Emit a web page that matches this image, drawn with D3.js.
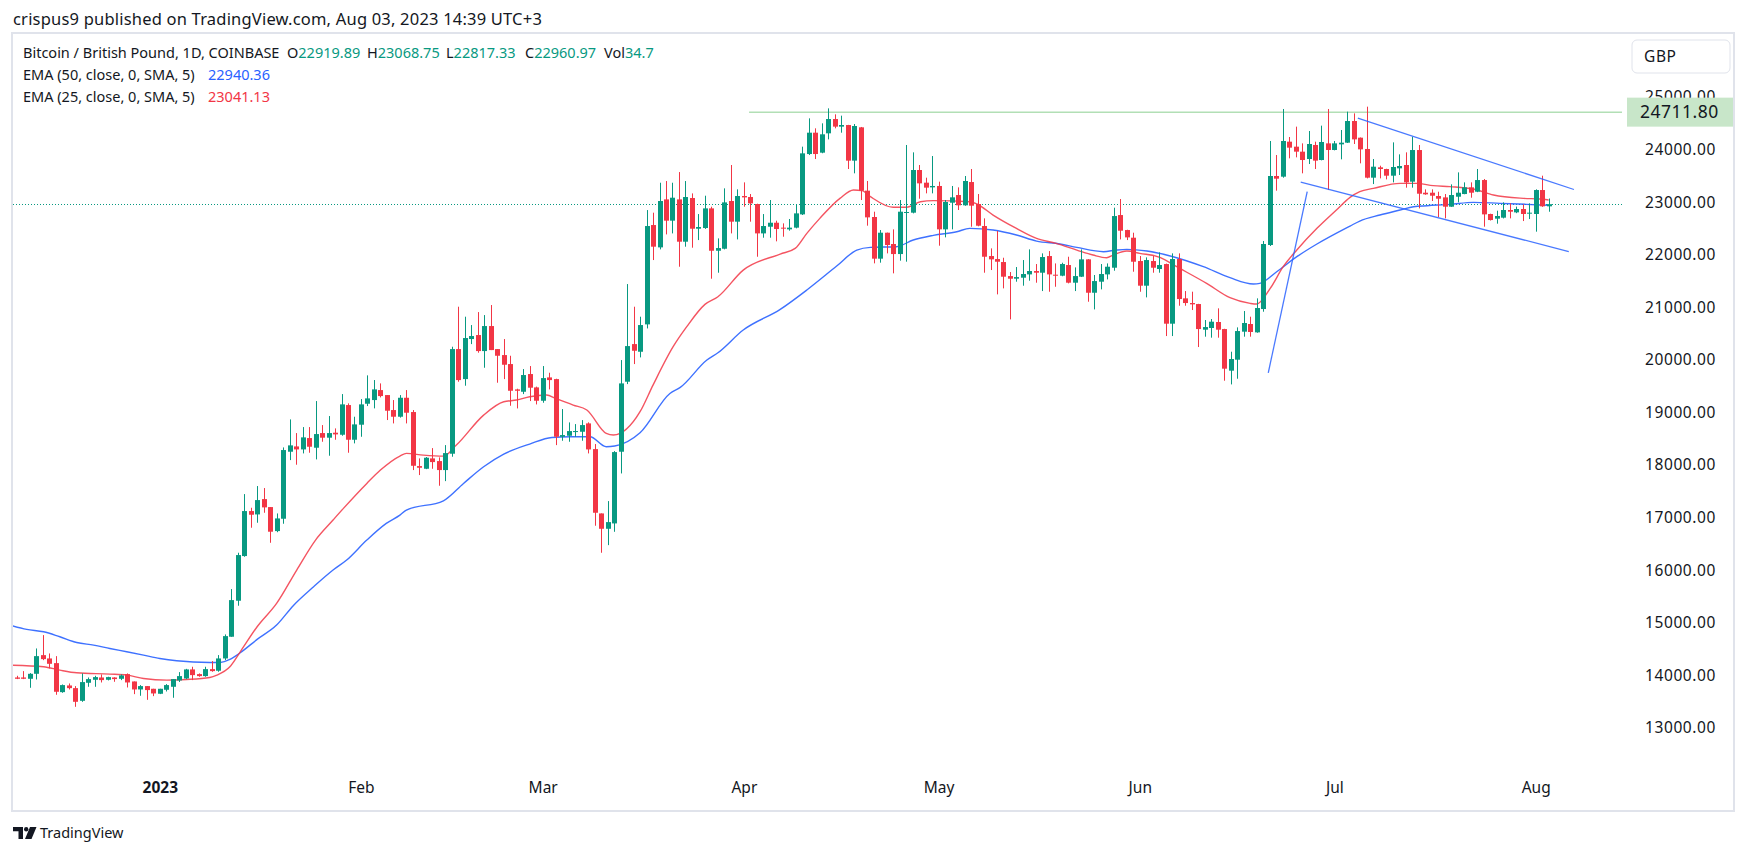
<!DOCTYPE html>
<html><head><meta charset="utf-8">
<script src="https://cdn.jsdelivr.net/npm/d3@7"></script>
<style>
html,body{margin:0;padding:0;background:#fff;}
svg{display:block;}
text{font-family:"Noto Sans",sans-serif;}
</style></head>
<body><svg id="chart" width="1747" height="856"></svg>
<script>
// ---------------- DATA ----------------
const firstDay = [2022, 11, 10]; // 10 Dec 2022, one candle per day
const open = [
13956,13956,13931,14026,14381,14318,14229,13677,13804,13753,
13512,13855,13912,13956,13912,13956,13931,14020,13880,13728,
13792,13741,13646,13722,13779,13899,13937,14109,14020,13982,
14115,14084,14318,14731,15416,16266,17122,17058,17350,17198,
16741,16976,18251,18352,18295,18511,18327,18606,18518,18613,
18574,19139,18479,18765,19164,19234,19424,19329,19044,18917,
19278,19006,17978,17927,18124,18073,17902,18213,20204,19633,
20395,20471,20166,20642,20204,20090,19919,19437,19392,19729,
19475,19221,19665,19633,18536,18555,18625,18631,18790,18301,
17077,16785,16887,18251,19583,20299,20153,20674,22564,22139,
23052,22647,23052,22247,23078,22494,22507,22881,22075,22113,
23021,22628,23116,23097,22964,22405,22532,22608,22514,22482,
22514,22767,23915,24321,23941,24309,24581,24436,24467,23789,
24423,23218,22717,21924,22418,22203,22012,22799,22799,23611,
23370,23281,23307,22482,22989,23135,22939,23382,22964,22545,
21974,21917,21860,21593,21543,21562,21625,21689,21657,21974,
21619,21600,21803,21467,21581,21911,21276,21486,21625,21752,
22754,22469,22323,21879,21410,21879,21727,21822,20687,21917,
21169,21080,21061,20573,20605,20719,20585,19793,20002,20535,
20681,20522,20966,22184,23497,23484,24150,24055,23960,23820,
24087,23801,24118,23992,24099,24131,24543,24226,24011,23465,
23662,23630,23503,23643,23706,23389,23991,23179,23179,23116,
23090,22913,23103,23154,23281,23198,23420,22774,22685,22704,
22850,22805,22869,22780,22774,23230,22919.89];
const high = [
13988,14077,14039,14508,14762,14413,14362,13823,13842,13792,
14033,13956,13988,14014,13970,13960,14014,14033,13880,13811,
13792,13741,13741,13830,13925,14058,14120,14160,14033,14160,
14268,14382,14775,15638,16329,17445,17185,17598,17560,17198,
17077,18333,18866,18606,18720,18720,19215,18758,18930,18695,
19348,19171,18917,19253,19704,19615,19551,19329,19234,19329,
19424,19044,18124,18150,18320,18143,18377,20249,21010,20820,
20661,20908,20851,21042,20204,20395,20077,19450,19824,19881,
19490,19881,19754,19640,19063,18809,18777,18853,18810,18397,
17077,17312,18263,19995,21441,21010,20820,22849,22799,23369,
23401,23369,23572,23401,23166,22773,23122,22913,22310,23262,
23706,23243,23376,23154,22970,22773,23040,22647,22596,22679,
22958,24055,24594,24404,24499,24784,24670,24645,24470,24486,
24430,23402,22818,22469,22420,22482,23040,24087,23947,23706,
23465,23877,23389,23040,23307,23281,23497,23630,23154,22691,
22120,22450,21942,21670,21765,21898,22101,21822,22025,22069,
21834,21847,21961,21758,22101,21915,21613,21822,21834,22894,
23059,22475,22418,21974,21949,21974,22044,21830,22025,22025,
21308,21296,21065,20757,20776,20979,20590,20154,20617,20928,
20820,21169,22260,24163,23896,24772,24239,24436,24118,24353,
24150,24455,24772,24163,24372,24721,24689,24230,24816,23820,
23693,23635,24137,23909,23947,24245,24087,23243,23243,23198,
23154,23338,23566,23376,23376,23630,23440,22780,22837,22996,
22977,22915,22958,22977,23243,23503,23068.75];
const low = [
13925,13925,13760,13918,14286,14128,13627,13665,13728,13398,
13493,13779,13779,13861,13900,13874,13906,13766,13639,13608,
13531,13601,13640,13690,13570,13870,13925,13906,13970,13970,
14065,14065,14287,14731,15321,16253,16805,16900,17090,16519,
16720,16881,18092,18004,18219,18232,18105,18441,18175,18479,
18555,18232,18410,18536,19120,19076,19285,18854,18790,18900,
18790,17902,17807,17920,17927,17604,17692,18156,19583,19507,
20299,20135,19849,20185,19564,19633,19126,19075,19348,19215,
19151,19183,19437,18377,18460,18441,18536,18460,18219,16843,
16329,16474,16728,17838,19538,19919,20046,20597,21898,22101,
22386,22405,21771,22152,22133,22278,22490,21543,21657,22101,
22405,22291,22913,22628,21961,22323,22323,22254,22342,22457,
22501,22755,23896,23820,23930,24194,24404,24321,23630,23548,
23040,22552,21835,21848,22025,21645,21886,21867,22786,23065,
23167,23167,22171,22330,22482,22850,22930,22532,22540,21657,
21708,21245,21359,20769,21486,21410,21505,21467,21308,21295,
21390,21590,21454,21308,21575,21105,20959,21340,21530,21695,
22291,22278,21676,21295,21188,21657,21657,20452,20452,21029,
21029,20947,20243,20440,20421,20421,19602,19532,19640,20440,
20440,20515,20915,22165,23218,23465,23833,23852,23548,23725,
23630,23795,23230,23985,23814,24125,24106,23738,23452,23344,
23452,23433,23376,23516,23275,23275,22881,23140,23021,22716,
22691,22910,22996,23150,23084,23190,22533,22650,22590,22690,
22691,22790,22640,22678,22438,22910,22817.33];
const close = [
13931,13931,14026,14362,14305,14216,13684,13811,13753,13493,
13868,13925,13963,13906,13963,13925,13995,13861,13728,13792,
13716,13652,13741,13811,13925,13982,14109,14001,13982,14115,
14077,14318,14743,15428,16285,17122,17052,17331,17192,16729,
16982,18283,18372,18295,18524,18346,18587,18518,18606,18581,
19152,18479,18771,19152,19266,19437,19310,19031,18917,19278,
18993,17984,17946,18137,18054,17902,18225,20204,19614,20414,
20452,20166,20642,20185,20077,19906,19411,19411,19710,19469,
19221,19652,19614,18536,18568,18644,18644,18758,18295,17090,
16785,16912,18244,19551,20261,20172,20661,22545,22152,23021,
22647,23084,22247,23097,22494,22526,22881,22075,22126,22995,
22628,23116,23090,22976,22405,22545,22608,22488,22501,22514,
22786,23928,24321,23915,24290,24581,24436,24467,23789,24448,
23218,22710,21924,22418,22184,22012,22818,22812,23611,23357,
23275,23307,22482,23002,23091,22939,23402,22932,22551,21961,
21911,21866,21581,21543,21574,21632,21689,21657,21955,21625,
21600,21822,21467,21593,21911,21276,21498,21632,21771,22735,
22456,22329,21866,21410,21898,21752,21803,20687,21917,21156,
21080,21055,20585,20623,20725,20573,19831,20015,20547,20700,
20529,20985,22203,23497,23446,24163,24036,23960,23801,24106,
23789,24144,23992,24118,24131,24543,24194,24004,23465,23674,
23630,23503,23668,23687,23376,23991,23160,23148,23122,23065,
22913,23135,23179,23281,23179,23420,22767,22659,22736,22850,
22818,22869,22774,22799,23230,22920,22960.97];

// EMA readings: [day index from first candle, value]
const ema50Points = [[-1.1,14952],[1.5,14870],[4.1,14825],[6.6,14730],[9.2,14622],[11.8,14572],[14.3,14508],[16.9,14445],[19.5,14381],[22,14318],[24.6,14274],[29.7,14242],[31.3,14242],[32.8,14299],[34.4,14426],[37,14680],[40,14953],[42.6,15327],[45.7,15682],[48.7,16000],[50.8,16190],[53.9,16570],[56.9,16887],[59,17046],[60,17141],[65.7,17318],[68.8,17648],[71.9,17965],[75,18206],[79,18397],[82.4,18523],[85.2,18536],[88.3,18536],[90.8,18346],[92.1,18359],[96,18612],[100.6,19360],[102.2,19475],[106.3,19995],[108,20134],[111.9,20566],[117.6,20959],[121.7,21328],[126.3,21784],[129.4,22088],[131.5,22139],[135.5,22152],[138.1,22279],[141.2,22368],[144.8,22437],[146.8,22501],[150.4,22469],[154,22374],[157.1,22259],[160.7,22203],[163.3,22139],[167.4,22057],[169.4,22088],[171,22101],[174.1,22069],[177.7,21975],[182.8,21771],[186.9,21562],[190.5,21442],[191.5,21454],[194.1,21676],[197.2,21962],[200.3,22203],[205.4,22545],[206.9,22640],[210,22754],[213.1,22850],[215.2,22913],[217.3,22932],[220.8,22958],[224.4,22996],[228.5,22977],[232.6,22958],[236,22940.36]];
const ema25Points = [[-1.1,14191],[4.1,14160],[6.6,14096],[9.2,14045],[14.3,14020],[16.9,14001],[19.5,13937],[23.1,13906],[26.1,13918],[29.7,13956],[30.8,14001],[32.8,14160],[34.4,14445],[37,14921],[40,15365],[43.1,16000],[46,16570],[48.7,16951],[50.3,17173],[53.9,17648],[56,17902],[59,18169],[60,18219],[62.6,18187],[65.7,18168],[67.7,18378],[71.9,18948],[75,19202],[77,19234],[79,19297],[81.6,19329],[83,19266],[85.7,19139],[87.8,19044],[90.8,18599],[91.9,18568],[96,19012],[98,19519],[101.1,20249],[103.2,20630],[106,21054],[108,21200],[111.9,21707],[117.6,22012],[119.9,22120],[121.7,22406],[123.7,22691],[126.8,23072],[128.9,23230],[130.2,23218],[131.5,23103],[135,22901],[137.1,22901],[139.2,23008],[141.2,23028],[146.8,23008],[147.9,22964],[150.4,22754],[154,22500],[157.1,22310],[160.1,22215],[163.3,22088],[165.8,21993],[167.9,21942],[168.9,21993],[171,22069],[173,22025],[176.1,21949],[178.7,21771],[183.3,21454],[186.9,21182],[190,21074],[191,21061],[193.1,21359],[195.1,21771],[197.2,22089],[200.3,22501],[203.3,22850],[205.4,23091],[206.9,23199],[209,23262],[213.1,23357],[215.7,23357],[218.2,23313],[220.8,23294],[224.4,23249],[227.5,23135],[232.1,23072],[234.7,23059],[236,23041.13]];

// drawn trend lines: [[dayIndex, price],[dayIndex, price]]
const trendLines = [
  [[192.8,19753],[198.8,23198]],
  [[206.6,24600],[239.9,23240]],
  [[197.8,23380],[239.1,22060]]
];
const resistanceLevel = 24711.80;
const resistanceStartDay = 112.8;
const lastClose = 22960.97;

const priceTicks = [25000,24000,23000,22000,21000,20000,19000,18000,17000,16000,15000,14000,13000];
const monthTickDates = ["2023-01-01","2023-02-01","2023-03-01","2023-04-01","2023-05-01","2023-06-01","2023-07-01","2023-08-01"];
const monthTickLabels = ["2023","Feb","Mar","Apr","May","Jun","Jul","Aug"];

const headerText = "crispus9 published on TradingView.com, Aug 03, 2023 14:39 UTC+3";
const symbolText = "Bitcoin / British Pound, 1D, COINBASE";
const ohlcLabels = ["O","H","L","C","Vol"];
const ohlcValues = ["22919.89","23068.75","22817.33","22960.97","34.7"];
const emaLabels = ["EMA (50, close, 0, SMA, 5)","EMA (25, close, 0, SMA, 5)"];
const emaValues = ["22940.36","23041.13"];

// ---------------- CHART ----------------
const UP="#089981", DOWN="#f23645", BLUE="#2962ff", RED="#f23645", TXT="#131722";
const svg = d3.select("#chart");
const DAY = 864e5;
const t0 = Date.UTC(firstDay[0], firstDay[1], firstDay[2]);
const dateAt = i => new Date(t0 + i*DAY);
const plot = {left:13, right:1622, top:35, bottom:770};

const x = d3.scaleUtc().domain([dateAt(0), dateAt(236)]).range([17, 17 + 6.49*236]);
const y = d3.scaleLinear().domain([25000, 13000]).range([97, 97 + 12000*0.05256]);

// header
svg.append("text").attr("x",13).attr("y",25).attr("font-size",16.5).attr("letter-spacing","0.2px")
  .attr("fill",TXT).text(headerText);

// frame
svg.append("rect").attr("x",12).attr("y",33).attr("width",1722).attr("height",778)
  .attr("fill","none").attr("stroke","#e0e3eb").attr("stroke-width",2);

svg.append("clipPath").attr("id","plotclip").append("rect")
  .attr("x",plot.left).attr("y",plot.top).attr("width",plot.right-plot.left).attr("height",plot.bottom-plot.top);
const g = svg.append("g").attr("clip-path","url(#plotclip)");

// last price dotted line
g.append("line").attr("x1",plot.left).attr("x2",plot.right)
  .attr("y1",Math.round(y(lastClose))+0.5).attr("y2",Math.round(y(lastClose))+0.5)
  .attr("stroke",UP).attr("stroke-width",1).attr("stroke-dasharray","1,2");

// resistance line
g.append("line").attr("x1",x(dateAt(resistanceStartDay))).attr("x2",plot.right+10)
  .attr("y1",y(resistanceLevel)).attr("y2",y(resistanceLevel))
  .attr("stroke","#b2dfb5").attr("stroke-width",1.5);

// EMA lines
const emaLine = d3.line().x(p=>x(dateAt(p[0]))).y(p=>y(p[1])).curve(d3.curveMonotoneX);
g.append("path").attr("d",emaLine(ema50Points)).attr("fill","none").attr("stroke",BLUE).attr("stroke-width",1.4).attr("stroke-opacity",0.9);
g.append("path").attr("d",emaLine(ema25Points)).attr("fill","none").attr("stroke",RED).attr("stroke-width",1.4).attr("stroke-opacity",0.85);

// candles
const candles = open.map((o,i)=>({d:dateAt(i),o,h:high[i],l:low[i],c:close[i]}));
const cg = g.append("g");
candles.forEach(k=>{
  const cx = Math.round(x(k.d));
  const col = k.c >= k.o ? UP : DOWN;
  cg.append("rect").attr("x",cx).attr("width",1)
    .attr("y",y(k.h)).attr("height",Math.max(1,y(k.l)-y(k.h))).attr("fill",col);
  const top = y(Math.max(k.o,k.c)), bot = y(Math.min(k.o,k.c));
  cg.append("rect").attr("x",cx-2).attr("width",5)
    .attr("y",top).attr("height",Math.max(1,bot-top)).attr("fill",col);
});

// trend lines
trendLines.forEach(tl=>{
  g.append("line").attr("x1",x(dateAt(tl[0][0]))).attr("y1",y(tl[0][1]))
    .attr("x2",x(dateAt(tl[1][0]))).attr("y2",y(tl[1][1]))
    .attr("stroke",BLUE).attr("stroke-width",1.3).attr("stroke-opacity",0.85);
});

// price axis
const yAxis = d3.axisRight(y).tickValues(priceTicks).tickFormat(d=>d.toFixed(2)).tickSize(0).tickPadding(0);
const ya = svg.append("g").attr("transform","translate(1645,0)").call(yAxis);
ya.select(".domain").remove();
ya.selectAll("text").attr("font-size",15.5).attr("fill",TXT).attr("font-family","Noto Sans, sans-serif").attr("letter-spacing","0.6px");

// GBP box
svg.append("rect").attr("x",1632).attr("y",40).attr("width",98).attr("height",33).attr("rx",5)
  .attr("fill","#fff").attr("stroke","#e0e3eb").attr("stroke-width",1);
svg.append("text").attr("x",1644).attr("y",57).attr("dy","0.35em").attr("font-size",15.5).attr("fill",TXT).attr("letter-spacing","0.6px").text("GBP");

// resistance label
svg.append("rect").attr("x",1627).attr("y",y(resistanceLevel)-14.5).attr("width",106).attr("height",29)
  .attr("fill","#c8e6c9");
svg.append("text").attr("x",1640).attr("y",y(resistanceLevel)).attr("dy","0.35em").attr("font-size",17.5)
  .attr("fill",TXT).attr("letter-spacing","0.5px").text(resistanceLevel.toFixed(2));

// time axis
const xAxis = d3.axisBottom(x).tickValues(monthTickDates.map(s=>new Date(s+"T00:00:00Z")))
  .tickFormat((d,i)=>monthTickLabels[i]).tickSize(0).tickPadding(0);
const xa = svg.append("g").attr("transform","translate(0,788)").call(xAxis);
xa.select(".domain").remove();
xa.selectAll("text").attr("y",0).attr("dy","0.35em").attr("font-size",15.5).attr("fill",TXT)
  .attr("font-family","Noto Sans, sans-serif")
  .attr("font-weight",(d,i)=> i===0 ? 700 : 400);

// legend
const leg = svg.append("g").attr("font-size",14.5).attr("fill",TXT);
leg.append("text").attr("x",23).attr("y",53).attr("dy","0.35em").text(symbolText);
const ohlcX = [287,367,446,525,604];
ohlcLabels.forEach((lab,i)=>{
  const t = leg.append("text").attr("x",ohlcX[i]).attr("y",53).attr("dy","0.35em");
  t.append("tspan").attr("fill",TXT).text(lab);
  t.append("tspan").attr("fill",UP).text(ohlcValues[i]);
});
emaLabels.forEach((lab,i)=>{
  const yy = 75 + i*21.5;
  leg.append("text").attr("x",23).attr("y",yy).attr("dy","0.35em").text(lab);
  leg.append("text").attr("x",208).attr("y",yy).attr("dy","0.35em").attr("fill", i===0?BLUE:RED).text(emaValues[i]);
});

// TradingView logo
const logo = svg.append("g").attr("transform","translate(13,827)").attr("fill",TXT);
logo.append("path").attr("d","M0 0H10V12H5.5V4.2H0Z");
logo.append("circle").attr("cx",13.2).attr("cy",2.2).attr("r",2.2);
logo.append("path").attr("d","M17 0H23.5L18.5 12H12Z");
svg.append("text").attr("x",27+13).attr("y",833).attr("dy","0.35em").attr("font-size",14.5).attr("fill",TXT).text("TradingView");
</script>
</body></html>
